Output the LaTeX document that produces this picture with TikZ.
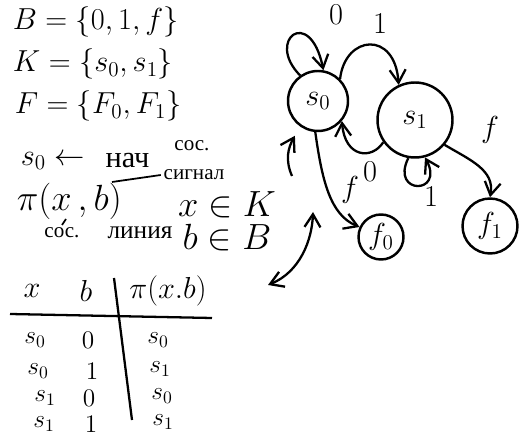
\documentclass[tikz,border=0pt]{standalone}
\usepackage{amsmath}
\usepackage{fontspec}
\newfontfamily\cyr{Liberation Serif}
\usetikzlibrary{arrows.meta,positioning}
\tikzset{%
  txt/.style={inner sep=1pt,font=\LARGE},
  small/.style={inner sep=1pt,font=\large\cyr},
  state/.style={draw,circle,line width=1.4pt,inner sep=0pt,font=\LARGE},
  arrow/.style={-{Straight Barb[length=2.6mm,width=3.2mm]},line width=1.3pt},
  lbl/.style={inner sep=1pt,font=\LARGE},
  cell/.style={inner sep=0pt,font=\Large}%
}

\begin{document}
\begin{tikzpicture}[x=0.02cm,y=-0.02cm,line width=1.3pt]
\useasboundingbox (0,0) rectangle (520,445);

% Sets
\node[txt, anchor=west] (setB) at (10,22) {$B=\{0,1,f\}$};
\node[txt, anchor=west] (setK) at (10,64) {$K=\{s_0,s_1\}$};
\node[txt, anchor=west] (setF) at (12,106) {$F=\{F_0,F_1\}$};

% Initial state and transition function
\node[txt, anchor=west] (init) at (18,161) {$s_0\leftarrow$};
\node[small, font=\LARGE\cyr, right=3mm of init] (nach) {нач};
\node[small] (sos) at (192,146) {сос.};
\node[small] (sig) at (194,175) {сигнал};
\node[txt, font=\huge, anchor=west] (pi) at (14,201) {$\pi(x\,,b)$};
\node[small] (sosx) at (62,233) {сос.};
\node[small, font=\Large\cyr] (line) at (140,233) {линия};
\coordinate (btop) at (112,182);
\coordinate (xbot) at (66,219);
\draw[line width=1pt] (sig.west) -- (btop);
\draw[line width=1pt] (xbot) -- (sosx.north);
\node[txt, font=\huge] (xinK) at (227,205) {$x\in K$};
\node[txt, font=\huge] (binB) at (227,238) {$b\in B$};

% Table
\node[lbl] (hx) at (32,291) {$x$};
\node[lbl] (hb) at (86,291) {$b$};
\node[lbl] (hpi) at (168,291) {$\pi(x.b)$};
\coordinate (hl0) at (10,314);
\coordinate (hl1) at (212,318);
\coordinate (vl0) at (114,278);
\coordinate (vl1) at (132,420);
\draw (hl0) -- (hl1);
\draw (vl0) -- (vl1);
\node[cell] (r1x) at (35,340) {$s_0$};
\node[cell] (r1b) at (88,340) {$0$};
\node[cell] (r1p) at (158,340) {$s_0$};
\node[cell] (r2x) at (38,371) {$s_0$};
\node[cell] (r2b) at (92,371) {$1$};
\node[cell] (r2p) at (160,369) {$s_1$};
\node[cell] (r3x) at (45,398) {$s_1$};
\node[cell] (r3b) at (89,398) {$0$};
\node[cell] (r3p) at (162,396) {$s_0$};
\node[cell] (r4x) at (44,424) {$s_1$};
\node[cell] (r4b) at (91,424) {$1$};
\node[cell] (r4p) at (163,422) {$s_1$};

% States
\node[state, minimum size=1.2cm] (s0) at (318,101) {$s_0$};
\node[state, minimum size=1.5cm] (s1) at (415,120) {$s_1$};
\node[state, minimum size=0.9cm] (f0) at (381,237) {$f_0$};
\node[state, minimum size=1.1cm] (f1) at (490,226) {$f_1$};

% Transitions
\draw[arrow] (s0.125) .. controls (265,40) and (310,5) .. (s0.80);
\node[lbl] (l00) at (336,15) {$0$};
\draw[arrow] (s0.45) .. controls (345,35) and (395,30) .. (s1.115);
\node[lbl] (l01) at (380,24) {$1$};
\draw[arrow] (s1.215) .. controls (372,160) and (345,158) .. (s0.-40);
\node[lbl] (l10) at (370,172) {$0$};
\draw[arrow] (s1.-100) .. controls (390,195) and (445,195) .. (s1.-75);
\node[lbl] (l11) at (431,197) {$1$};
\draw[arrow] (s1.-40) .. controls (470,160) and (495,170) .. (f1.north);
\node[lbl] (l1f) at (490,130) {$f$};
\draw[arrow] (s0.-95) .. controls (322,180) and (330,215) .. (f0.155);
\node[lbl] (l0f) at (350,190) {$f$};

% Start arrow and link to table
\coordinate (start) at (292,176);
\draw[arrow, shorten >=6pt] (start) .. controls (285,160) and (288,148) .. (s0.235);
\coordinate (dtop) at (313,212);
\coordinate (dbot) at (268,285);
\draw[{Straight Barb[length=2.6mm,width=3.2mm]}-{Straight Barb[length=2.6mm,width=3.2mm]}]
  (dbot) .. controls (300,272) and (312,240) .. (dtop);

\end{tikzpicture}
\end{document}
